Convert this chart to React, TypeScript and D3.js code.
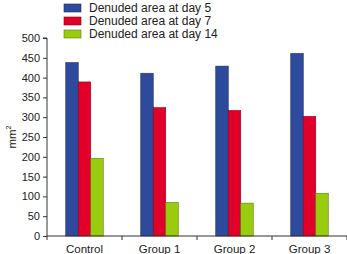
import React, { useEffect, useRef } from 'react';
import * as d3 from 'd3';

const categories = ['Control', 'Group 1', 'Group 2', 'Group 3'];
const seriesNames = ['Denuded area at day 5', 'Denuded area at day 7', 'Denuded area at day 14'];
const day5 = [438, 411, 429, 461];
const day7 = [389, 324, 317, 302];
const day14 = [196, 85, 83, 108];
const yTicks = [0, 50, 100, 150, 200, 250, 300, 350, 400, 450, 500];

const colors = ['#2d4a9c', '#e0002a', '#99cc0f'];
const strokes = ['#1c2f6a', '#8a0018', '#5f7f08'];

const App: React.FC = () => {
  const svgRef = useRef<SVGSVGElement>(null);

  useEffect(() => {
    if (!svgRef.current) return;
    const svg = d3.select(svgRef.current);
    svg.selectAll('*').remove();

    const left = 47, right = 347, top = 38, bottom = 236;
    const font = 'Liberation Sans, Arial, sans-serif';
    const series = [day5, day7, day14];

    const x = d3.scaleBand<string>().domain(categories).range([left, right]).paddingInner(0).paddingOuter(0);
    const inner = d3.scaleBand<number>().domain([0, 1, 2])
      .range([x.bandwidth() * 0.25, x.bandwidth() * 0.75]);
    const y = d3.scaleLinear().domain([0, 500]).range([bottom, top]);

    // bars
    categories.forEach((c, ci) => {
      series.forEach((vals, si) => {
        svg.append('rect')
          .attr('x', (x(c) as number) + (inner(si) as number))
          .attr('y', y(vals[ci]))
          .attr('width', inner.bandwidth())
          .attr('height', y(0) - y(vals[ci]))
          .attr('fill', colors[si])
          .attr('stroke', strokes[si])
          .attr('stroke-width', 0.6);
      });
    });

    // y axis
    const ya = svg.append('g')
      .attr('transform', `translate(${left},0)`)
      .call(d3.axisLeft(y).tickValues(yTicks).tickSize(4).tickPadding(3));
    ya.selectAll('text').attr('font-size', 11).attr('font-family', font).attr('fill', '#222');
    ya.selectAll('line').attr('stroke', '#333');
    ya.select('.domain').attr('stroke', '#333').attr('d', `M-4,${top}H0V${bottom}`);

    // x axis
    const xa = svg.append('g')
      .attr('transform', `translate(0,${bottom})`);
    xa.append('line').attr('x1', left).attr('x2', right).attr('stroke', '#333');
    [...categories.map(c => x(c) as number), right].forEach(px => {
      xa.append('line').attr('x1', px).attr('x2', px).attr('y1', 0).attr('y2', 4).attr('stroke', '#333');
    });
    categories.forEach(c => {
      xa.append('text')
        .attr('x', (x(c) as number) + x.bandwidth() / 2)
        .attr('y', 17)
        .attr('text-anchor', 'middle')
        .attr('font-size', 11.5)
        .attr('font-family', font)
        .attr('fill', '#222')
        .text(c);
    });

    // y label
    const yl = svg.append('text')
      .attr('transform', `translate(16,${(top + bottom) / 2}) rotate(-90)`)
      .attr('text-anchor', 'middle')
      .attr('font-size', 11.5)
      .attr('font-family', font)
      .attr('fill', '#222');
    yl.append('tspan').text('mm');
    yl.append('tspan').attr('dy', -5).attr('font-size', 7).text('2');

    // legend
    seriesNames.forEach((name, i) => {
      const g = svg.append('g').attr('transform', `translate(64,${4 + i * 13})`);
      g.append('rect').attr('width', 17).attr('height', 8)
        .attr('fill', colors[i]).attr('stroke', strokes[i]).attr('stroke-width', 0.6);
      g.append('text').attr('x', 25).attr('y', 4).attr('dy', '0.35em')
        .attr('font-size', 12).attr('font-family', font).attr('fill', '#222')
        .text(name);
    });
  }, []);

  return <svg ref={svgRef} width={347} height={254} style={{ position: 'absolute', left: 0, top: 0, background: '#fff' }} />;
};

export default App;
